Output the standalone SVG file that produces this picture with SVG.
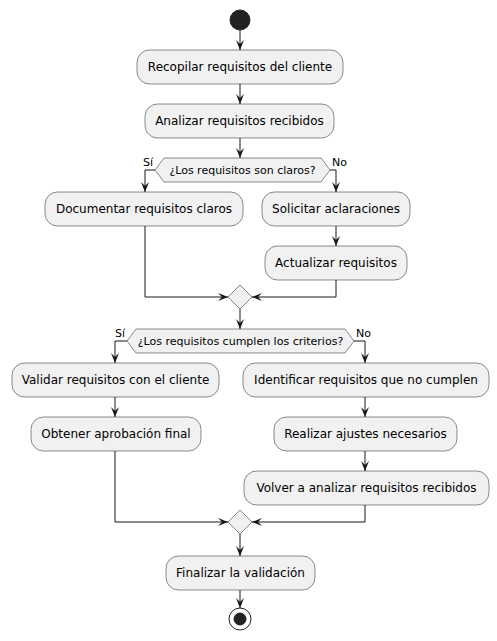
<svg xmlns="http://www.w3.org/2000/svg" width="497" height="641" viewBox="0 0 497 641">
<defs>
<marker id="ah" markerUnits="userSpaceOnUse" markerWidth="10" markerHeight="8" refX="10" refY="4" orient="auto" overflow="visible">
<path d="M0,0 L10,4 L0,8 L4,4 Z" fill="#181818"/>
</marker>
<style>
.act{fill:#F1F1F1;stroke:#181818;stroke-width:0.5}
.t{font-family:"DejaVu Sans",sans-serif;font-size:12px;fill:#000000;text-anchor:middle}
.tl{font-family:"DejaVu Sans",sans-serif;font-size:11px;fill:#000000}
.c{fill:none;stroke:#181818;stroke-width:1;marker-end:url(#ah)}
</style>
</defs>
<rect width="497" height="641" fill="#FFFFFF"/>
<g id="connectors">
<path class="c" d="M240,30 L240,50"/>
<path class="c" d="M240,84 L240,104"/>
<path class="c" d="M240,138 L240,158"/>
<path class="c" d="M155,170 L145,170 L145,192"/>
<path class="c" d="M330,170 L336,170 L336,192"/>
<path class="c" d="M336,226 L336,246"/>
<path class="c" d="M145,226 L145,297 L228,297"/>
<path class="c" d="M336,280 L336,297 L252,297"/>
<path class="c" d="M240,309 L240,329"/>
<path class="c" d="M127,341 L115,341 L115,363"/>
<path class="c" d="M354,341 L365,341 L365,363"/>
<path class="c" d="M115,397 L115,417"/>
<path class="c" d="M365,397 L365,417"/>
<path class="c" d="M365,451 L365,471"/>
<path class="c" d="M115,451 L115,522 L228,522"/>
<path class="c" d="M365,505 L365,522 L252,522"/>
<path class="c" d="M240,534 L240,556"/>
<path class="c" d="M240,590 L240,608"/>
<text class="tl" x="153" y="166" text-anchor="end">Sí</text>
<text class="tl" x="332" y="166">No</text>
<text class="tl" x="125" y="337" text-anchor="end">Sí</text>
<text class="tl" x="356" y="337">No</text>
</g>
<g id="start"><circle cx="240" cy="20" r="10" fill="#222222" stroke="#222222" stroke-width="1"/></g>
<g id="a1"><rect class="act" x="137" y="50" width="206" height="34" rx="12.5"/><text class="t" x="240" y="71">Recopilar requisitos del cliente</text></g>
<g id="a2"><rect class="act" x="145" y="104" width="189" height="34" rx="12.5"/><text class="t" x="239.5" y="125">Analizar requisitos recibidos</text></g>
<g id="d1"><polygon class="act" points="155,170 164,158 321,158 330,170 321,182 164,182"/><text class="t" x="242.5" y="174" style="font-size:11px">¿Los requisitos son claros?</text></g>
<g id="a3"><rect class="act" x="45" y="192" width="198" height="34" rx="12.5"/><text class="t" x="144" y="213">Documentar requisitos claros</text></g>
<g id="a4"><rect class="act" x="262" y="192" width="148" height="34" rx="12.5"/><text class="t" x="336" y="213">Solicitar aclaraciones</text></g>
<g id="a5"><rect class="act" x="265" y="246" width="142" height="34" rx="12.5"/><text class="t" x="336" y="267">Actualizar requisitos</text></g>
<g id="m1"><polygon class="act" points="240,285 252,297 240,309 228,297"/></g>
<g id="d2"><polygon class="act" points="127,341 136,329 345,329 354,341 345,353 136,353"/><text class="t" x="240.5" y="345" style="font-size:11px">¿Los requisitos cumplen los criterios?</text></g>
<g id="a6"><rect class="act" x="12" y="363" width="207" height="34" rx="12.5"/><text class="t" x="115.5" y="384">Validar requisitos con el cliente</text></g>
<g id="a7"><rect class="act" x="243" y="363" width="246" height="34" rx="12.5"/><text class="t" x="366" y="384">Identificar requisitos que no cumplen</text></g>
<g id="a8"><rect class="act" x="31" y="417" width="170" height="34" rx="12.5"/><text class="t" x="116" y="438">Obtener aprobación final</text></g>
<g id="a9"><rect class="act" x="274" y="417" width="183" height="34" rx="12.5"/><text class="t" x="365.5" y="438">Realizar ajustes necesarios</text></g>
<g id="a10"><rect class="act" x="244" y="471" width="245" height="34" rx="12.5"/><text class="t" x="366.5" y="492">Volver a analizar requisitos recibidos</text></g>
<g id="m2"><polygon class="act" points="240,510 252,522 240,534 228,522"/></g>
<g id="a11"><rect class="act" x="166" y="556" width="149" height="34" rx="12.5"/><text class="t" x="240.5" y="577">Finalizar la validación</text></g>
<g id="end"><circle cx="240" cy="619" r="11" fill="none" stroke="#222222" stroke-width="1"/><circle cx="240" cy="619" r="6" fill="#222222" stroke="#222222" stroke-width="1"/></g>
</svg>
